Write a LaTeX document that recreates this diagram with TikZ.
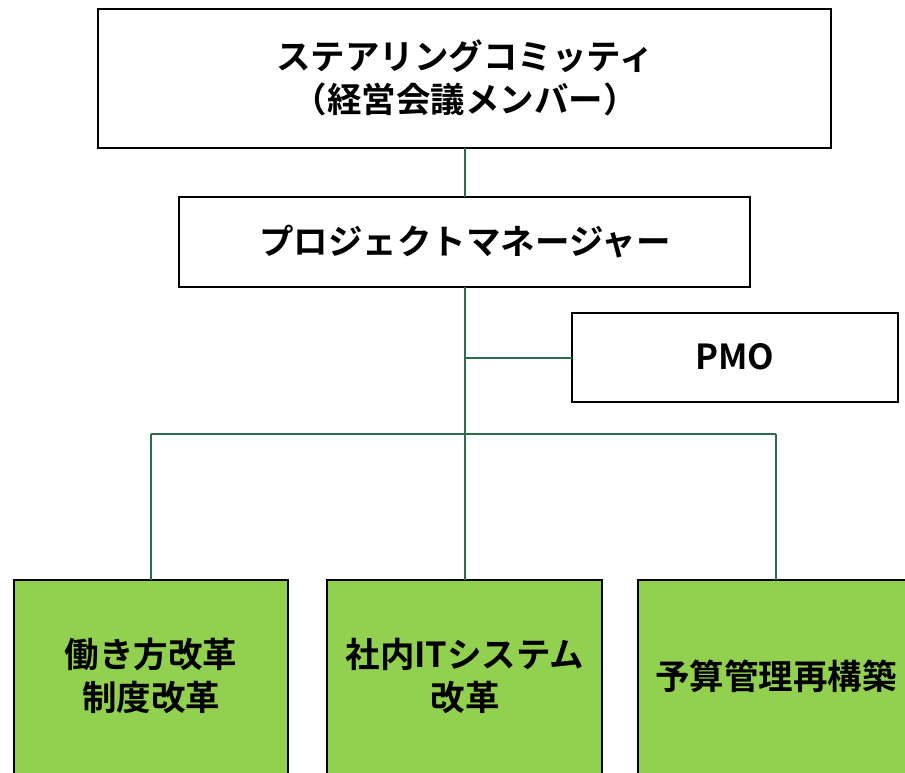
\documentclass[tikz,border=0pt]{standalone}
\usepackage{fontspec}
\setmainfont{Noto Sans CJK JP}[BoldFont={* Bold}]
\definecolor{linegreen}{HTML}{2E6B4A}
\definecolor{boxgreen}{HTML}{92D050}
\begin{document}
\begin{tikzpicture}[x=1pt,y=-1pt,
  wbox/.style={draw=black,line width=2.4pt,fill=white},
  gbox/.style={draw=black,line width=2.4pt,fill=boxgreen},
  lbl/.style={font=\bfseries\fontsize{34.5}{43}\selectfont,align=center,inner sep=0pt},
  conn/.style={draw=linegreen,line width=2.5pt}]
\useasboundingbox (0,0) rectangle (905,773);
% boxes
\draw[wbox] (98,9) rectangle (831,148);
\node[lbl] (sc) at (465,78) {ステアリングコミッティ\\（経営会議メンバー）};
\draw[wbox] (179,197) rectangle (750,287);
\node[lbl] (pm) at (465,242) {プロジェクトマネージャー};
\draw[wbox] (572,313) rectangle (898,402);
\node[lbl] (pmo) at (735,357) {PMO};
\draw[gbox] (14,580) rectangle (288,800);
\node[lbl] (b1) at (151,676) {働き方改革\\制度改革};
\draw[gbox] (327,580) rectangle (602,800);
\node[lbl] (b2) at (465,676) {社内ITシステム\\改革};
\draw[gbox] (638,580) rectangle (914,800);
\node[lbl] (b3) at (776,676) {予算管理再構築};
% connectors
\coordinate (sct) at (465,148);
\coordinate (pmt) at (465,197);
\coordinate (pmb) at (465,287);
\coordinate (pmoj) at (465,358);
\coordinate (pmol) at (572,358);
\coordinate (bj) at (465,434);
\coordinate (l1) at (151,434);
\coordinate (l3) at (776,434);
\coordinate (t1) at (151,580);
\coordinate (t2) at (465,580);
\coordinate (t3) at (776,580);
\draw[conn] (sct) -- (pmt);
\draw[conn] (pmb) -- (t2);
\draw[conn] (pmoj) -- (pmol);
\draw[conn] (l1) -- (l3);
\draw[conn] (l1) -- (t1);
\draw[conn] (l3) -- (t3);
\end{tikzpicture}
\end{document}
